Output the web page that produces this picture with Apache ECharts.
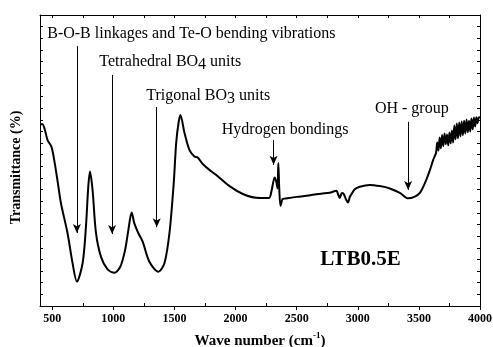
<!DOCTYPE html>
<html>
<head>
<meta charset="utf-8">
<script src="https://cdn.jsdelivr.net/npm/echarts@6/dist/echarts.min.js"></script>
<style>
  html, body { margin: 0; background: #fff; }
  #chart { width: 493px; height: 347px; }
</style>
</head>
<body>
<div id="chart"></div>
<script>
// FTIR spectrum of LTB0.5E
const waveNumbers = [
  400, 420, 440, 462, 494, 516, 545, 571, 625, 666, 702, 749, 776, 795, 809, 830,
  858, 899, 953, 1008, 1057, 1096, 1123, 1150, 1172, 1205, 1240, 1295, 1369, 1418,
  1459, 1494, 1514, 1533, 1549, 1582, 1623, 1664, 1690, 1732, 1800, 1842, 1951,
  2060, 2170, 2273, 2293, 2320, 2333, 2343, 2350, 2358, 2368, 2385, 2400, 2500,
  2600, 2700, 2770, 2825, 2838, 2852, 2870, 2885, 2905, 2920, 2935, 2948, 2975,
  3016, 3098, 3180, 3262, 3344, 3412, 3467, 3508, 3549, 3590, 3617,
  3640, 3650, 3660, 3670, 3680, 3690, 3700, 3710, 3720, 3730, 3740, 3750, 3760,
  3770, 3780, 3790, 3800, 3810, 3820, 3830, 3840, 3850, 3860, 3870, 3880, 3890,
  3900, 3910, 3920, 3930, 3940, 3950, 3960, 3970, 3980, 3990, 4000
];
const transmittance = [
  62.5, 62.5, 60.5, 57.0, 54.7, 50.2, 42.6, 35.4, 25.1, 14.8, 8.4, 14.8, 27.3, 41.0, 46.2, 39.9,
  25.1, 16.9, 12.6, 11.4, 13.5, 19.2, 26.1, 32.1, 28.4, 25.0, 22.1, 15.2, 11.8, 14.7,
  25.0, 42.2, 55.9, 62.8, 65.6, 59.5, 53.6, 51.4, 51.0, 48.8, 46.3, 45.0, 41.2,
  38.5, 37.2, 37.1, 39.3, 44.2, 42.7, 40.4, 49.1, 39.9, 34.4, 36.8, 36.9, 37.5,
  38.0, 38.6, 38.9, 39.6, 38.5, 37.1, 38.8, 38.5, 36.5, 35.6, 37.5, 38.4, 40.1,
  41.0, 41.6, 41.2, 40.4, 38.9, 37.0, 37.6, 38.9, 42.2, 46.7, 50.2,
  52.6, 56.2, 53.4, 57.9, 54.2, 58.8, 54.9, 59.3, 55.6, 58.9, 55.2, 59.6, 55.9,
  60.3, 56.2, 62.0, 57.3, 62.7, 57.6, 63.1, 58.3, 63.4, 58.7, 63.7, 59.3, 64.1,
  59.7, 63.7, 60.0, 64.4, 60.7, 64.8, 61.7, 64.9, 62.8, 64.8, 64.9
];

const majorTicks = [500, 1000, 1500, 2000, 2500, 3000, 3500, 4000];
const minorTicks = [750, 1250, 1750, 2250, 2750, 3250, 3750];
const topTicks = [500, 750, 1000, 1250, 1500, 1750, 2000, 2250, 2500, 2750, 3000, 3250, 3500, 3750, 4000];

// band assignments: arrow wave number, arrow start / tip level, label text and anchor
const arrowWaves = [702, 990, 1355, 2311, 3412];
const arrowTops = [89.3, 79.4, 68.4, 57.0, 63.3];
const arrowTips = [25.1, 24.7, 27.1, 48.5, 39.9];
const noteTexts = [
  'B-O-B linkages and Te-O bending vibrations',
  'Tetrahedral BO{sub|4} units',
  'Trigonal BO{sub|3} units',
  'Hydrogen bondings',
  'OH - group'
];
const noteWaves = [459, 885, 1270, 1887, 3140];
const noteLevels = [93.5, 83.8, 72.2, 60.5, 67.9];
const sampleName = 'LTB0.5E';
const sampleAt = [3022, 15.8];

const serif = '"Liberation Serif", "Times New Roman", serif';

const chart = echarts.init(document.getElementById('chart'));

const noteData = noteTexts.map((t, i) => ({
  name: t,
  coord: [noteWaves[i], noteLevels[i]]
}));
noteData.push({
  name: sampleName,
  coord: sampleAt,
  label: { position: 'inside', fontSize: 21, fontWeight: 'bold', lineHeight: 24 }
});

const arrowData = arrowWaves.map((w, i) => [
  { coord: [w, arrowTops[i]] },
  { coord: [w, arrowTips[i]] }
]);

const boxLine = { show: true, lineStyle: { color: '#000', width: 1 } };

chart.setOption({
  animation: false,
  backgroundColor: '#fff',
  grid: { left: 40, right: 13, top: 15, bottom: 41, outerBoundsMode: 'none' },
  xAxis: [
    {
      type: 'value',
      min: 400,
      max: 4000,
      position: 'bottom',
      axisLine: boxLine,
      axisTick: { show: true, customValues: majorTicks, inside: false, length: 4, lineStyle: { color: '#000' } },
      axisLabel: {
        customValues: majorTicks,
        formatter: (v) => String(v),
        color: '#000',
        fontFamily: serif,
        fontWeight: 'bold',
        fontSize: 12,
        margin: 7
      },
      splitLine: { show: false },
      name: 'Wave number (cm{sup|-1})',
      nameLocation: 'middle',
      nameGap: 25,
      nameTextStyle: {
        color: '#000',
        fontFamily: serif,
        fontWeight: 'bold',
        fontSize: 15,
        lineHeight: 20,
        rich: {
          sup: { fontFamily: serif, fontWeight: 'bold', fontSize: 9, lineHeight: 10, verticalAlign: 'top', color: '#000' }
        }
      }
    },
    {
      type: 'value',
      min: 400,
      max: 4000,
      position: 'bottom',
      axisLine: { show: false },
      axisTick: { show: true, customValues: minorTicks, inside: true, length: 3, lineStyle: { color: '#000' } },
      axisLabel: { show: false },
      splitLine: { show: false }
    },
    {
      type: 'value',
      min: 400,
      max: 4000,
      position: 'top',
      axisLine: boxLine,
      axisTick: { show: true, customValues: topTicks, inside: true, length: 3, lineStyle: { color: '#000' } },
      axisLabel: { show: false },
      splitLine: { show: false }
    }
  ],
  yAxis: [
    {
      type: 'value',
      min: 0,
      max: 100,
      interval: 4,
      position: 'left',
      axisLine: boxLine,
      axisTick: { show: true, inside: true, length: 3, lineStyle: { color: '#000' } },
      axisLabel: { show: false },
      splitLine: { show: false },
      name: 'Transmittance (%)',
      nameLocation: 'middle',
      nameGap: 17,
      nameTextStyle: {
        color: '#000',
        fontFamily: serif,
        fontWeight: 'bold',
        fontSize: 14,
        padding: [0, 14, 0, 0]
      }
    },
    {
      type: 'value',
      min: 0,
      max: 100,
      interval: 4,
      position: 'right',
      axisLine: boxLine,
      axisTick: { show: true, inside: true, length: 3, lineStyle: { color: '#000' } },
      axisLabel: { show: false },
      splitLine: { show: false }
    }
  ],
  series: [
    {
      type: 'line',
      data: waveNumbers.map((w, i) => [w, transmittance[i]]),
      showSymbol: false,
      smooth: 0.3,
      lineStyle: { color: '#000', width: 2 },
      silent: true,
      markLine: {
        silent: true,
        symbol: ['none', 'arrow'],
        symbolSize: [6, 9],
        label: { show: false },
        lineStyle: { color: '#000', width: 1, type: 'solid' },
        data: arrowData
      },
      markPoint: {
        silent: true,
        symbol: 'circle',
        symbolSize: 0,
        label: {
          show: true,
          position: 'right',
          distance: 0,
          formatter: '{b}',
          color: '#000',
          fontFamily: serif,
          fontSize: 16,
          lineHeight: 22,
          rich: {
            sub: { fontFamily: serif, fontSize: 16, lineHeight: 14, verticalAlign: 'bottom', color: '#000' }
          }
        },
        data: noteData
      }
    }
  ]
});
</script>
</body>
</html>
